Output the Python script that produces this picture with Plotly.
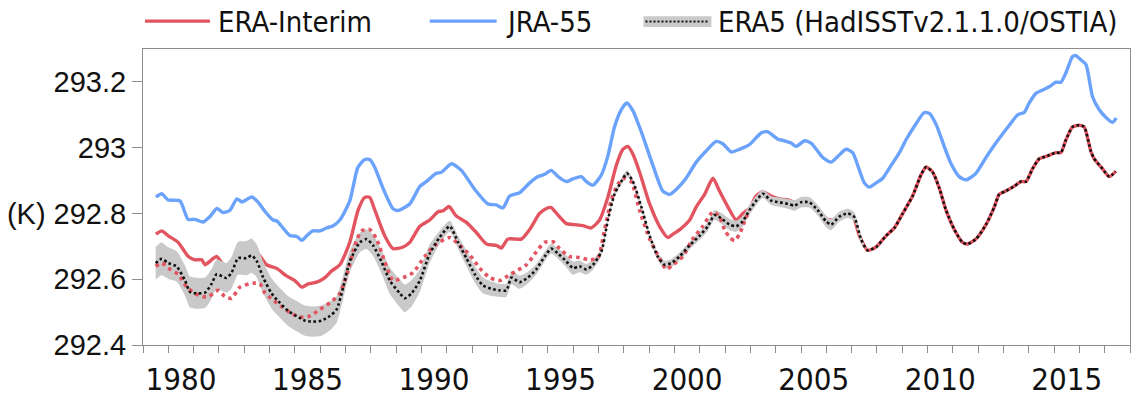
import plotly.graph_objects as go

# ---------------- data ----------------
jra55_year = [
    1979.01, 1979.24, 1979.49, 1979.96, 1980.28, 1980.55, 1980.87, 1981.15, 1981.42, 1981.66,
    1981.93, 1982.21, 1982.41, 1982.80, 1983.04, 1983.32, 1983.64, 1983.79, 1984.03, 1984.30,
    1984.58, 1984.78, 1984.98, 1985.21, 1985.49, 1985.76, 1986.00, 1986.28, 1986.67, 1986.99,
    1987.26, 1987.46, 1987.66, 1987.97, 1988.37, 1988.57, 1989.04, 1989.44, 1989.70, 1990.09,
    1990.29, 1990.69, 1991.08, 1991.61, 1992.13, 1992.46, 1992.72, 1992.99, 1993.38, 1993.78,
    1994.11, 1994.37, 1994.63, 1994.90, 1995.23, 1995.49, 1995.82, 1996.02, 1996.28, 1996.61,
    1996.87, 1997.13, 1997.40, 1997.62, 1997.86, 1998.19, 1998.65, 1999.04, 1999.31, 1999.57,
    1999.96, 2000.36, 2000.75, 2001.15, 2001.41, 2001.74, 2002.07, 2002.46, 2002.93, 2003.19,
    2003.58, 2003.85, 2004.11, 2004.31, 2004.64, 2004.90, 2005.36, 2005.69, 2005.95, 2006.28,
    2006.54, 2006.81, 2007.00, 2007.20, 2007.47, 2007.73, 2008.06, 2008.39, 2008.65, 2009.04,
    2009.37, 2009.57, 2009.83, 2010.16, 2010.43, 2010.75, 2011.02, 2011.41, 2011.81, 2012.20,
    2012.73, 2013.06, 2013.32, 2013.52, 2013.78, 2014.04, 2014.31, 2014.57, 2014.77, 2014.97,
    2015.23, 2015.36, 2015.56, 2015.76, 2016.02, 2016.28, 2016.55, 2016.81, 2016.96,
]
jra55_k = [
    292.850, 292.860, 292.841, 292.838, 292.782, 292.782, 292.774, 292.791, 292.815, 292.803,
    292.809, 292.844, 292.835, 292.850, 292.835, 292.806, 292.780, 292.777, 292.756, 292.733,
    292.730, 292.718, 292.733, 292.747, 292.747, 292.756, 292.762, 292.780, 292.838, 292.940,
    292.964, 292.964, 292.940, 292.879, 292.815, 292.809, 292.829, 292.882, 292.897, 292.922,
    292.925, 292.951, 292.931, 292.873, 292.829, 292.826, 292.817, 292.853, 292.863, 292.893,
    292.912, 292.919, 292.931, 292.912, 292.897, 292.905, 292.912, 292.897, 292.886, 292.917,
    292.975, 293.063, 293.116, 293.136, 293.112, 293.048, 292.946, 292.868, 292.858, 292.873,
    292.907, 292.956, 292.990, 293.019, 293.012, 292.987, 292.995, 293.009, 293.045, 293.048,
    293.026, 293.021, 293.014, 293.004, 293.021, 293.014, 292.970, 292.956, 292.973, 292.995,
    292.985, 292.931, 292.893, 292.880, 292.893, 292.907, 292.946, 292.985, 293.024, 293.072,
    293.107, 293.104, 293.072, 293.004, 292.951, 292.912, 292.902, 292.922, 292.970, 293.014,
    293.068, 293.100, 293.107, 293.136, 293.165, 293.175, 293.185, 293.199, 293.199, 293.228,
    293.277, 293.280, 293.267, 293.253, 293.155, 293.116, 293.092, 293.077, 293.090,
]

erai_year = [
    1979.01, 1979.24, 1979.50, 1979.89, 1980.29, 1980.55, 1980.82, 1980.95, 1981.21, 1981.41,
    1981.74, 1982.10, 1982.72, 1983.04, 1983.38, 1983.78, 1984.17, 1984.50, 1984.77, 1985.03,
    1985.36, 1985.69, 1985.95, 1986.28, 1986.67, 1987.00, 1987.26, 1987.46, 1987.66, 1988.05,
    1988.38, 1988.78, 1989.04, 1989.44, 1989.83, 1990.16, 1990.36, 1990.59, 1990.88, 1991.28,
    1991.67, 1992.07, 1992.46, 1992.66, 1992.92, 1993.25, 1993.45, 1993.78, 1994.17, 1994.44,
    1994.63, 1994.90, 1995.23, 1995.55, 1995.88, 1996.21, 1996.54, 1996.87, 1997.20, 1997.46,
    1997.66, 1997.86, 1998.12, 1998.52, 1998.91, 1999.24, 1999.44, 1999.71, 2000.10, 2000.36,
    2000.69, 2001.02, 2001.28, 2001.61, 2001.94, 2002.20, 2002.46, 2002.73, 2002.99, 2003.32,
    2003.65, 2003.98, 2004.24, 2004.50, 2004.83, 2005.16, 2005.49, 2005.75, 2006.01, 2006.28,
    2006.54, 2006.81, 2007.13, 2007.47, 2007.86, 2008.19, 2008.52, 2008.91, 2009.24, 2009.44,
    2009.70, 2009.96, 2010.23, 2010.56, 2010.88, 2011.08, 2011.41, 2011.81, 2012.14, 2012.33,
    2012.59, 2012.93, 2013.19, 2013.39, 2013.65, 2013.91, 2014.24, 2014.57, 2014.77, 2014.97,
    2015.23, 2015.49, 2015.69, 2015.95, 2016.08, 2016.41, 2016.68, 2016.94,
]
erai_k = [
    292.737, 292.747, 292.732, 292.712, 292.669, 292.659, 292.659, 292.644, 292.659, 292.669,
    292.639, 292.660, 292.669, 292.677, 292.644, 292.633, 292.610, 292.596, 292.576, 292.586,
    292.591, 292.605, 292.625, 292.644, 292.712, 292.810, 292.849, 292.849, 292.810, 292.732,
    292.693, 292.698, 292.712, 292.761, 292.780, 292.805, 292.808, 292.821, 292.792, 292.773,
    292.742, 292.707, 292.703, 292.695, 292.722, 292.722, 292.722, 292.751, 292.800, 292.815,
    292.818, 292.795, 292.769, 292.766, 292.763, 292.756, 292.780, 292.849, 292.946, 292.995,
    293.004, 292.980, 292.926, 292.829, 292.761, 292.727, 292.737, 292.751, 292.780, 292.820,
    292.858, 292.907, 292.868, 292.820, 292.780, 292.800, 292.815, 292.853, 292.866, 292.853,
    292.844, 292.841, 292.834, 292.841, 292.839, 292.815, 292.785, 292.780, 292.795, 292.805,
    292.795, 292.732, 292.688, 292.698, 292.732, 292.756, 292.800, 292.853, 292.917, 292.941,
    292.926, 292.878, 292.810, 292.751, 292.712, 292.707, 292.722, 292.766, 292.820, 292.858,
    292.868, 292.883, 292.897, 292.897, 292.936, 292.966, 292.975, 292.985, 292.985, 293.024,
    293.063, 293.068, 293.063, 292.990, 292.967, 292.936, 292.912, 292.928,
]

# red dotted series (no legend entry in the reference)
red_dot_year = [
    1979.00, 1979.24, 1979.57, 1979.89, 1980.23, 1980.55, 1980.88, 1981.08, 1981.47, 1981.74,
    1982.00, 1982.33, 1982.85, 1983.12, 1983.32, 1983.64, 1984.04, 1984.43, 1984.83, 1985.09,
    1985.49, 1985.88, 1986.28, 1986.60, 1986.87, 1987.13, 1987.46, 1987.73, 1988.05, 1988.38,
    1988.78, 1989.17, 1989.63, 1990.03, 1990.62, 1991.01, 1991.41, 1991.80, 1992.20, 1992.59,
    1992.92, 1993.25, 1993.65, 1994.04, 1994.37, 1994.70, 1994.96, 1995.35, 1995.75, 1996.15,
    1996.47, 1996.74, 1997.00, 1997.26, 1997.53, 1997.79, 1998.12, 1998.52, 1998.91, 1999.18,
    1999.44, 1999.83, 2000.22, 2000.62, 2001.02, 2001.28, 2001.48, 2001.68, 2001.87, 2002.07,
    2002.27, 2002.46,
]
red_dot_k = [
    292.639, 292.649, 292.630, 292.615, 292.576, 292.557, 292.547, 292.547, 292.566, 292.547,
    292.542, 292.576, 292.588, 292.586, 292.557, 292.537, 292.513, 292.493, 292.484, 292.488,
    292.508, 292.528, 292.557, 292.625, 292.703, 292.747, 292.751, 292.722, 292.654, 292.596,
    292.605, 292.620, 292.669, 292.703, 292.727, 292.703, 292.674, 292.634, 292.605, 292.596,
    292.610, 292.625, 292.644, 292.683, 292.712, 292.714, 292.693, 292.669, 292.666, 292.659,
    292.664, 292.751, 292.839, 292.888, 292.907, 292.897, 292.810, 292.722, 292.664, 292.630,
    292.644, 292.669, 292.722, 292.761, 292.805, 292.790, 292.751, 292.727, 292.717, 292.737,
    292.776, 292.810,
]

era5_year = [
    1979.00, 1979.24, 1979.50, 1979.83, 1980.16, 1980.36, 1980.68, 1980.95, 1981.21, 1981.41,
    1981.80, 1982.00, 1982.26, 1982.59, 1982.79, 1982.99, 1983.25, 1983.58, 1983.91, 1984.24,
    1984.57, 1984.90, 1985.22, 1985.55, 1985.88, 1986.15, 1986.41, 1986.67, 1987.07, 1987.33,
    1987.59, 1987.92, 1988.25, 1988.65, 1988.84, 1989.11, 1989.44, 1989.83, 1990.22, 1990.62,
    1990.95, 1991.28, 1991.61, 1991.93, 1992.27, 1992.59, 1992.86, 1993.06, 1993.38, 1993.71,
    1994.04, 1994.37, 1994.63, 1994.90, 1995.23, 1995.49, 1995.75, 1996.02, 1996.28, 1996.61,
    1996.87, 1997.13, 1997.40, 1997.62, 1997.86, 1998.19, 1998.52, 1998.84, 1999.11, 1999.37,
    1999.70, 2000.10, 2000.49, 2000.82, 2001.08, 2001.35, 2001.68, 2001.94, 2002.20, 2002.46,
    2002.73, 2002.99, 2003.32, 2003.65, 2003.98, 2004.24, 2004.50, 2004.83, 2005.16, 2005.49,
    2005.69, 2006.01, 2006.34, 2006.60, 2006.87, 2007.13, 2007.47, 2007.86, 2008.19, 2008.52,
    2008.91, 2009.24, 2009.44, 2009.70, 2009.96, 2010.23, 2010.56, 2010.88, 2011.08, 2011.41,
    2011.81, 2012.14, 2012.33, 2012.59, 2012.93, 2013.19, 2013.39, 2013.65, 2013.91, 2014.24,
    2014.57, 2014.77, 2014.97, 2015.23, 2015.49, 2015.69, 2015.95, 2016.08, 2016.41, 2016.68,
    2016.94,
]
era5_k = [
    292.649, 292.662, 292.649, 292.639, 292.596, 292.561, 292.557, 292.559, 292.586, 292.615,
    292.604, 292.620, 292.664, 292.664, 292.672, 292.656, 292.605, 292.557, 292.528, 292.503,
    292.488, 292.474, 292.471, 292.474, 292.488, 292.508, 292.576, 292.654, 292.712, 292.722,
    292.703, 292.654, 292.596, 292.557, 292.542, 292.557, 292.596, 292.678, 292.727, 292.761,
    292.712, 292.664, 292.615, 292.581, 292.571, 292.566, 292.566, 292.605, 292.591, 292.605,
    292.630, 292.669, 292.693, 292.678, 292.654, 292.634, 292.639, 292.630, 292.644, 292.683,
    292.780, 292.858, 292.897, 292.922, 292.897, 292.820, 292.732, 292.669, 292.644, 292.649,
    292.669, 292.703, 292.732, 292.761, 292.795, 292.785, 292.766, 292.761, 292.776, 292.810,
    292.839, 292.860, 292.839, 292.834, 292.829, 292.824, 292.834, 292.834, 292.810, 292.776,
    292.766, 292.790, 292.800, 292.790, 292.722, 292.688, 292.698, 292.732, 292.756, 292.800,
    292.853, 292.917, 292.941, 292.926, 292.878, 292.810, 292.751, 292.712, 292.707, 292.722,
    292.766, 292.820, 292.858, 292.868, 292.883, 292.897, 292.897, 292.936, 292.966, 292.975,
    292.985, 292.985, 293.024, 293.063, 293.068, 293.063, 292.990, 292.967, 292.936, 292.912,
    292.928,
]
# half-width of the grey ensemble-spread band (K), one per ERA5 point
era5_spread = [
    0.050, 0.050, 0.048, 0.046, 0.046, 0.047, 0.047, 0.046, 0.045, 0.045,
    0.045, 0.048, 0.050, 0.052, 0.052, 0.050, 0.048, 0.046, 0.045, 0.045,
    0.046, 0.046, 0.046, 0.046, 0.044, 0.040, 0.036, 0.033, 0.030, 0.030,
    0.032, 0.036, 0.040, 0.042, 0.042, 0.040, 0.035, 0.028, 0.020, 0.017,
    0.020, 0.024, 0.025, 0.024, 0.022, 0.020, 0.020, 0.020, 0.020, 0.018,
    0.016, 0.015, 0.015, 0.016, 0.018, 0.020, 0.018, 0.016, 0.015, 0.012,
    0.010, 0.009, 0.009, 0.009, 0.009, 0.010, 0.010, 0.011, 0.012, 0.012,
    0.012, 0.012, 0.013, 0.014, 0.015, 0.016, 0.017, 0.017, 0.016, 0.015,
    0.014, 0.013, 0.013, 0.014, 0.015, 0.016, 0.016, 0.016, 0.016, 0.017,
    0.017, 0.015, 0.014, 0.014, 0.012, 0.000, 0.000, 0.000, 0.000, 0.000,
    0.000, 0.000, 0.000, 0.000, 0.000, 0.000, 0.000, 0.000, 0.000, 0.000,
    0.000, 0.000, 0.000, 0.000, 0.000, 0.000, 0.000, 0.000, 0.000, 0.000,
    0.000, 0.000, 0.000, 0.000, 0.000, 0.000, 0.000, 0.000, 0.000, 0.000,
    0.000,
]

x_label_years = [1980, 1985, 1990, 1995, 2000, 2005, 2010, 2015]
y_ticks = [292.4, 292.6, 292.8, 293.0, 293.2]
y_tick_text = ["292.4", "292.6", "(K) 292.8", "293", "293.2"]
legend_names = ["ERA-Interim", "JRA-55", "ERA5 (HadISSTv2.1.1.0/OSTIA)"]

# ---------------- styling ----------------
W, H = 1134, 400
ML, MR, MT, MB = 143, 3, 49, 43
RED = "#e2545f"
BLUE = "#6ba2fb"
BAND = "#c9c9c9"
BLACK = "#111111"
AXIS = "#8c8c8c"
NARROW = "DejaVu Sans Condensed, Liberation Sans Narrow, sans-serif"
REG = "Liberation Sans, Arial, sans-serif"


def px2x(px):
    return (px - ML) / (W - ML - MR)


def py2y(py):
    return (H - MB - py) / (H - MT - MB)


fig = go.Figure()
SM = 0.6

fig.add_trace(go.Scatter(x=erai_year, y=erai_k, mode="lines", name=legend_names[0],
                         line=dict(color=RED, width=3.4, shape="spline", smoothing=SM)))

band_hi = [v + s for v, s in zip(era5_k, era5_spread)]
band_lo = [v - s for v, s in zip(era5_k, era5_spread)]
fig.add_trace(go.Scatter(x=era5_year, y=band_hi, mode="lines", line=dict(width=0, color=BAND, shape="spline", smoothing=SM),
                         hoverinfo="skip", showlegend=False))
fig.add_trace(go.Scatter(x=era5_year, y=band_lo, mode="lines", fill="tonexty", fillcolor=BAND,
                         line=dict(width=0, color=BAND, shape="spline", smoothing=SM),
                         hoverinfo="skip", showlegend=False, name="ERA5 spread"))

fig.add_trace(go.Scatter(x=red_dot_year, y=red_dot_k, mode="lines", name="ERA-Interim (dotted)",
                         line=dict(color=RED, width=3.6, dash="3.6px,4px", shape="spline", smoothing=SM)))
fig.add_trace(go.Scatter(x=era5_year, y=era5_k, mode="lines", name=legend_names[2],
                         line=dict(color=BLACK, width=2.6, dash="2.6px,2.6px", shape="spline", smoothing=SM)))
fig.add_trace(go.Scatter(x=jra55_year, y=jra55_k, mode="lines", name=legend_names[1],
                         line=dict(color=BLUE, width=3.4, shape="spline", smoothing=SM)))

# ---------------- manual legend ----------------
ly = py2y(20)
shapes = [
    dict(type="line", xref="paper", yref="paper", x0=px2x(145), x1=px2x(210), y0=ly, y1=ly,
         line=dict(color=RED, width=3.4)),
    dict(type="line", xref="paper", yref="paper", x0=px2x(430), x1=px2x(497), y0=ly, y1=ly,
         line=dict(color=BLUE, width=3.4)),
    dict(type="rect", xref="paper", yref="paper", x0=px2x(644), x1=px2x(712), y0=py2y(15), y1=py2y(26),
         fillcolor=BAND, line=dict(width=0)),
    dict(type="line", xref="paper", yref="paper", x0=px2x(646), x1=px2x(710), y0=py2y(20.5), y1=py2y(20.5),
         line=dict(color=BLACK, width=2, dash="2px,2px")),
]
annotations = []
for px, name in zip([216, 504, 717], legend_names):
    annotations.append(dict(xref="paper", yref="paper", x=px2x(px), y=py2y(21), text=name,
                            showarrow=False, xanchor="left", yanchor="middle",
                            font=dict(family=NARROW, size=29, color=BLACK)))

fig.update_layout(
    width=W, height=H,
    margin=dict(l=ML, r=MR, t=MT, b=MB),
    plot_bgcolor="white", paper_bgcolor="white",
    showlegend=False,
    shapes=shapes, annotations=annotations,
    xaxis=dict(
        range=[1978.5, 2017.5],
        tickmode="array", tickvals=x_label_years, ticktext=[str(y) for y in x_label_years],
        ticks="outside", ticklen=7, tickcolor="rgba(0,0,0,0)",
        tickfont=dict(family=NARROW, size=31, color=BLACK),
        minor=dict(tickmode="linear", tick0=1978.5, dtick=1, ticks="outside", ticklen=7,
                   tickcolor=AXIS, tickwidth=1, showgrid=False),
        showline=True, linecolor=AXIS, linewidth=1, mirror=True,
        showgrid=False, zeroline=False,
    ),
    yaxis=dict(
        range=[292.4, 293.3],
        tickmode="array", tickvals=y_ticks, ticktext=y_tick_text,
        ticks="outside", ticklen=10, tickcolor=AXIS,
        tickfont=dict(family=REG, size=29, color=BLACK),
        showline=True, linecolor=AXIS, linewidth=1, mirror=True,
        showgrid=False, zeroline=False,
    ),
)

fig.write_html("out.html")
